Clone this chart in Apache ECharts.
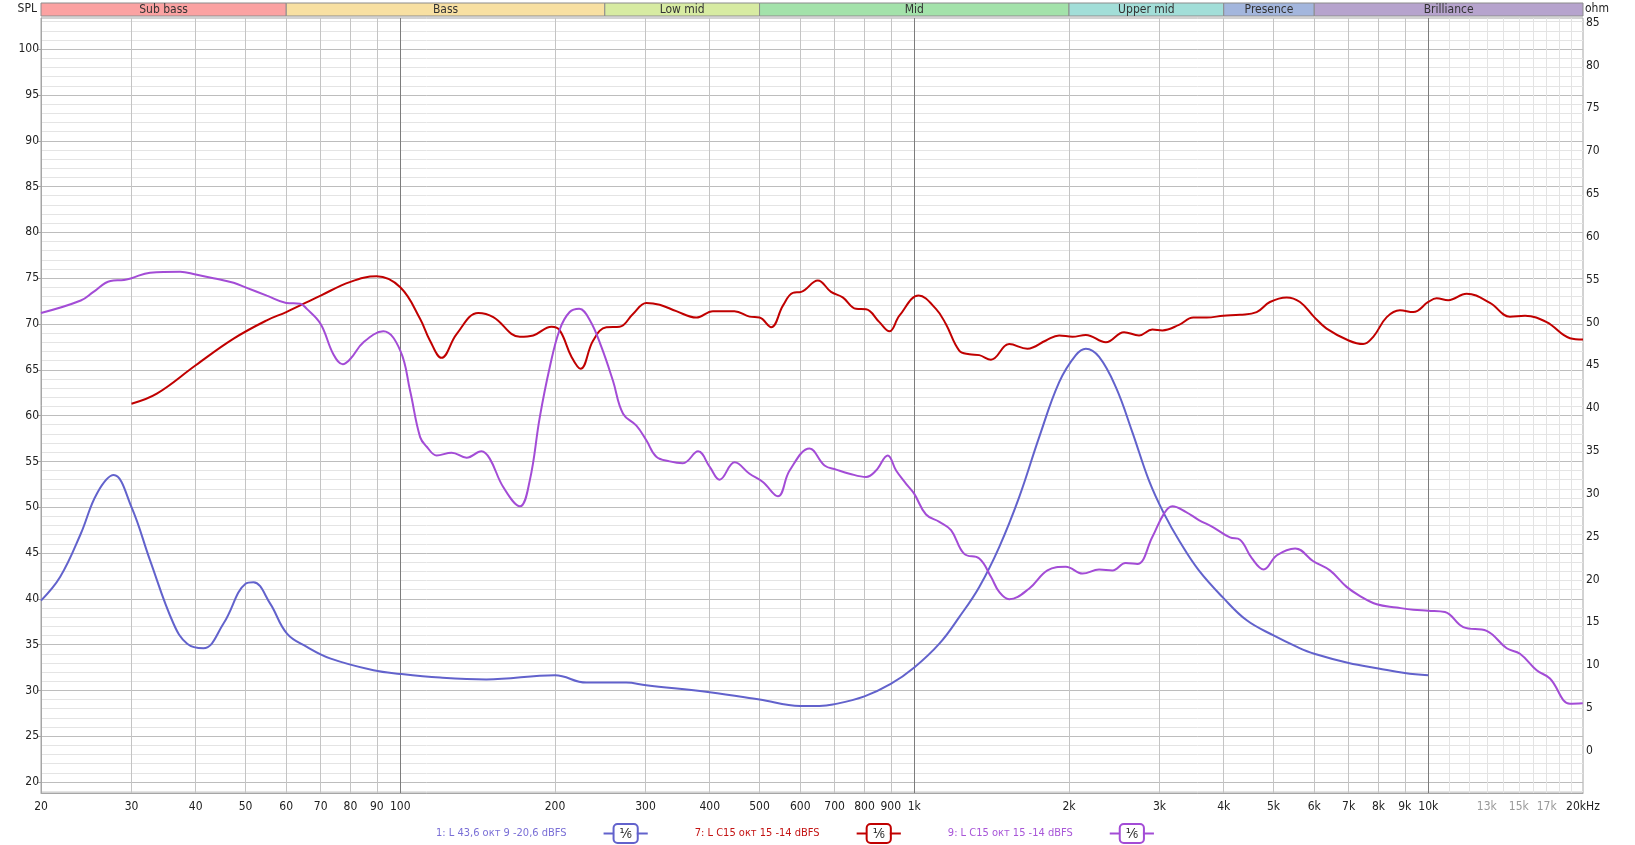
<!DOCTYPE html>
<html><head><meta charset="utf-8">
<script src="https://cdn.jsdelivr.net/npm/echarts@6/dist/echarts.min.js"></script>
<style>html,body{margin:0;padding:0;background:#fff}#c{width:1635px;height:845px}</style>
</head><body><div id="c"></div>
<script>
// ---------- DATA ----------
const bandEdges = [20, 60, 250, 500, 2000, 4000, 6000, 20000];
const bandNames = ['Sub bass', 'Bass', 'Low mid', 'Mid', 'Upper mid', 'Presence', 'Brilliance'];
const bandColors = ['#fba2a2', '#f8e0a2', '#d7eba2', '#a3e2aa', '#a2ded8', '#a3b6dd', '#b6a3cd'];

const xLabelValues = [20,30,40,50,60,70,80,90,100,200,300,400,500,600,700,800,900,1000,2000,3000,4000,5000,6000,7000,8000,9000,10000,13000,15000,17000,20000];
const xMajorLines = [30,40,50,60,70,80,90,200,300,400,500,600,700,800,900,2000,3000,4000,5000,6000,7000,8000,9000];
const xDecadeLines = [100, 1000, 10000];
const xMinorLines = [11000,12000,13000,14000,15000,16000,17000,18000,19000];
const splTicks = [20,25,30,35,40,45,50,55,60,65,70,75,80,85,90,95,100];
const ohmTicks = [0,5,10,15,20,25,30,35,40,45,50,55,60,65,70,75,80,85];

const seriesNames = ['1: L 43,6 окт 9 -20,6 dBFS', '7: L C15 окт 15 -14 dBFS', '9: L C15 окт 15 -14 dBFS'];

const s1Freq = [20,21.8,23.9,25.7,27.7,30,32.6,36.2,38.5,41.4,45.3,50,51.8,55.8,60.2,65.8,73,88.7,100,119.5,147,200,230,275,301,400,500,600,654,694,800,900,1000,1119,1223,1338,1463,1600,1750,1914,2062,2157,2289,2467,2656,2862,3061,3288,3578,3992,4434,5000,5553,6000,7000,8000,9000,10000];
const s1Val  = [39.8,42.4,47.1,51.5,53.5,50.0,44.2,37.3,35.1,34.6,37.3,41.65,41.8,39.5,36.2,34.75,33.5,32.2,31.8,31.4,31.2,31.65,30.85,30.85,30.55,29.8,29.0,28.3,28.3,28.45,29.35,30.7,32.5,35.1,38.0,41.3,45.65,51.1,57.65,63.65,66.6,67.3,66.4,63.1,58.2,52.9,49.3,46.2,43.1,40.1,37.65,36.0,34.75,34.0,33.0,32.4,31.9,31.65];

const s7Freq = [30,33.6,40,47.4,55,60,70,80,90,100,109.2,114.2,120.3,128.7,141.8,151.7,170.9,181.4,196.9,204.3,215.4,224.3,237.3,251.8,267.2,283.6,301.1,319.6,344.4,376.7,405.9,446.8,478.1,500,526.8,555.2,580.5,602.7,649.2,688.7,725.8,770.4,805.8,855.4,894.6,935.5,1020,1102,1152,1223,1280,1338,1410,1530,1660,1804,1914,2031,2157,2359,2559,2737,2905,3038,3273,3490,3706,3992,4302,4636,4920,5302,5629,6000,6342,7000,7470,7816,8302,8808,9350,10000,10380,10936,11875,13183,14420,15425,16995,18865,20000];
const s7Val  = [61.3,62.4,65.5,68.4,70.4,71.3,73.1,74.6,75.2,74.0,70.6,68.2,66.3,68.9,71.2,70.75,68.6,68.75,69.7,69.3,66.4,65.1,68.2,69.65,69.7,71.1,72.3,72.1,71.4,70.7,71.4,71.4,70.8,70.7,69.65,72.0,73.4,73.5,74.75,73.5,72.9,71.65,71.6,70.2,69.2,70.9,73.1,71.65,70.0,67.1,66.7,66.6,66.1,67.8,67.3,68.2,68.75,68.6,68.8,68.0,69.1,68.75,69.4,69.3,69.9,70.7,70.7,70.9,71.0,71.3,72.4,72.9,72.4,70.75,69.5,68.2,67.8,68.6,70.75,71.5,71.3,72.4,72.8,72.6,73.3,72.3,70.8,70.9,70.2,68.45,68.3];

const s9Freq = [20,23.9,25.3,27.3,29,30,32.6,37.3,40,43.3,47.4,50,55,60,63.9,65.8,70,74.1,77.3,80,84.8,92.7,100,104.5,109.3,112.6,117.7,125.9,134.6,143.9,149.3,158.6,170.9,178.6,186.8,195.4,204.3,213.6,222.9,233.8,246.2,259.3,271.3,288,301.1,314.9,334.3,354.8,379.7,400,418.1,447.2,478.1,507.5,542.9,572.1,625.6,668.9,704.8,748,806,842.6,888,921.9,964.1,1000,1054,1119,1179,1251,1338,1410,1463,1530,1672,1816,1971,2125,2289,2429,2578,2716,2905,3061,3177,3373,3578,3817,4113,4302,4539,4782,5076,5510,5975,6437,6937,7366,7938,8680,9350,10000,10777,11698,12991,14210,15082,16250,17248,18865,19980];
const s9Val  = [71.2,72.56,73.5,74.7,74.8,75.0,75.6,75.7,75.4,75.0,74.5,74.0,73.1,72.3,72.2,71.65,70.0,66.7,65.6,66.2,68.0,69.2,67.1,62.7,57.65,56.6,55.65,55.95,55.4,56.1,55.3,52.2,50.1,52.9,59.8,65.3,69.4,71.3,71.65,70.4,67.5,63.8,60.2,58.9,57.3,55.5,55.0,54.8,56.1,54.4,53.0,54.9,53.65,52.75,51.2,54.0,56.4,54.55,54.1,53.65,53.3,54.0,55.65,54.0,52.55,51.45,49.2,48.4,47.5,44.9,44.4,42.4,40.75,39.95,41.1,43.1,43.5,42.75,43.2,43.1,43.9,43.8,46.75,49.3,50.1,49.5,48.6,47.8,46.7,46.45,44.4,43.2,44.75,45.5,44.1,43.1,41.3,40.3,39.4,39.05,38.8,38.7,38.55,36.9,36.5,34.6,34.0,32.2,31.3,28.55,28.6];

// ---------- STYLE ----------
const FONT = "'Liberation Sans Narrow','DejaVu Sans Condensed','Liberation Sans',sans-serif";
const lineColors = ['#6262cc', '#c00000', '#a34cd6'];
const textColors = ['#7a6fd6', '#c41414', '#a856d8'];
const SPL_MIN = 18.8, SPL_MAX = 103.4, OHM_MIN = -4.94, OHM_MAX = 85.54;
const G = {left: 41, right: 52, top: 18, bottom: 52};

const pair = (fs, vs) => fs.map((f, i) => [f, vs[i]]);
const splMinor = [];
for (let v = 19; v <= 103; v++) splMinor.push(v);

const rich = {};
['a','b','c'].forEach((k, i) => {
  rich['t' + k] = {color: textColors[i], fontSize: 11, fontFamily: FONT, padding: [0, 37, 0, 0], verticalAlign: 'middle'};
  rich['l' + k] = {width: 11, height: 2, backgroundColor: lineColors[i], verticalAlign: 'middle'};
  rich['b' + k] = {borderColor: lineColors[i], borderWidth: 2, borderRadius: 3, padding: [2, 5, 1, 5], color: '#222', fontSize: 14, fontFamily: 'DejaVu Sans Condensed', backgroundColor: '#fff', verticalAlign: 'middle'};
});

const chart = echarts.init(document.getElementById('c'), null, {renderer: 'canvas'});
const logAxisBase = {type: 'log', logBase: 10, min: 20, max: 20000};

chart.setOption({
  animation: false,
  backgroundColor: '#fff',
  textStyle: {fontFamily: FONT},
  grid: [
    Object.assign({show: true, borderColor: '#a6a6a6', borderWidth: 1, backgroundColor: '#fff'}, G),
    {left: G.left, right: G.right, top: 3, height: 13}
  ],
  xAxis: [
    Object.assign({}, logAxisBase, {gridIndex: 0, position: 'top', axisLine: {show: false}, axisLabel: {show: false},
      axisTick: {show: false, customValues: xMinorLines}, splitLine: {show: true, lineStyle: {color: '#e3e3e3', width: 1}}}),
    Object.assign({}, logAxisBase, {gridIndex: 0, position: 'bottom',
      axisLine: {show: true, lineStyle: {color: '#a6a6a6'}},
      axisTick: {show: false, customValues: xMajorLines},
      axisLabel: {customValues: xLabelValues, margin: 8, fontSize: 12, fontFamily: FONT,
        formatter: v => v === 20000 ? '20kHz' : (v >= 1000 ? (v / 1000) + 'k' : String(v)),
        color: v => (v === 13000 || v === 15000 || v === 17000) ? '#9a9a9a' : '#222'},
      splitLine: {show: true, lineStyle: {color: '#c4c4c4', width: 1}}}),
    Object.assign({}, logAxisBase, {gridIndex: 0, position: 'top', offset: 0, axisLine: {show: false}, axisLabel: {show: false},
      axisTick: {show: false, customValues: xDecadeLines}, splitLine: {show: true, lineStyle: {color: '#7c7c7c', width: 1}}}),
    Object.assign({}, logAxisBase, {gridIndex: 1, show: false})
  ],
  yAxis: [
    {type: 'value', gridIndex: 0, min: SPL_MIN, max: SPL_MAX, position: 'left', axisLine: {show: false}, axisLabel: {show: false},
      axisTick: {show: false, customValues: splMinor}, splitLine: {show: true, lineStyle: {color: '#e4e4e4', width: 1}}},
    {type: 'value', gridIndex: 0, min: SPL_MIN, max: SPL_MAX, position: 'left',
      name: 'SPL', nameLocation: 'end', nameGap: 9,
      nameTextStyle: {align: 'right', verticalAlign: 'middle', color: '#222', fontSize: 12, fontFamily: FONT, padding: [0, 4, 0, 0]},
      axisLine: {show: true, lineStyle: {color: '#a6a6a6'}},
      axisTick: {show: true, length: 4, customValues: splTicks, lineStyle: {color: '#a6a6a6'}},
      axisLabel: {customValues: splTicks, margin: 2, fontSize: 12, color: '#222', fontFamily: FONT},
      splitLine: {show: true, lineStyle: {color: '#bdbdbd', width: 1}}},
    {type: 'value', gridIndex: 0, min: OHM_MIN, max: OHM_MAX, position: 'right',
      name: 'ohm', nameLocation: 'end', nameGap: 9,
      nameTextStyle: {align: 'left', verticalAlign: 'middle', color: '#222', fontSize: 12, fontFamily: FONT, padding: [0, 0, 0, 2]},
      axisLine: {show: false}, axisTick: {show: false, customValues: ohmTicks},
      axisLabel: {customValues: ohmTicks, margin: 3, fontSize: 12, color: '#222', fontFamily: FONT},
      splitLine: {show: false}},
    {type: 'value', gridIndex: 1, min: 0, max: 1, show: false}
  ],
  legend: {
    top: 818, left: 426, itemGap: 42, itemWidth: 0, itemHeight: 0, icon: 'rect',
    selectedMode: false,
    data: seriesNames,
    formatter: name => {
      const k = ['a','b','c'][seriesNames.indexOf(name)];
      return `{t${k}|${name}}{l${k}|}{b${k}|¹⁄₆}{l${k}|}`;
    },
    textStyle: {rich: rich}
  },
  series: [
    {type: 'custom', xAxisIndex: 3, yAxisIndex: 3, silent: true,
      data: bandNames.map((n, i) => [bandEdges[i], bandEdges[i + 1], i]),
      renderItem: (params, api) => {
        const i = api.value(2);
        const p0 = api.coord([api.value(0), 1]);
        const p1 = api.coord([api.value(1), 0]);
        return {
          type: 'rect',
          shape: {x: p0[0], y: p0[1], width: p1[0] - p0[0], height: p1[1] - p0[1]},
          style: {fill: bandColors[i], stroke: '#8c8c8c', lineWidth: 1},
          textContent: {style: {text: bandNames[i], fill: '#333', font: '12px ' + FONT}},
          textConfig: {position: 'inside'}
        };
      }},
    {name: seriesNames[0], type: 'line', xAxisIndex: 1, yAxisIndex: 1, data: pair(s1Freq, s1Val),
      showSymbol: false, symbol: 'none', smooth: 0.4, lineStyle: {color: lineColors[0], width: 2}, itemStyle: {color: lineColors[0]}},
    {name: seriesNames[1], type: 'line', xAxisIndex: 1, yAxisIndex: 1, data: pair(s7Freq, s7Val),
      showSymbol: false, symbol: 'none', smooth: 0.4, lineStyle: {color: lineColors[1], width: 2}, itemStyle: {color: lineColors[1]}},
    {name: seriesNames[2], type: 'line', xAxisIndex: 1, yAxisIndex: 1, data: pair(s9Freq, s9Val),
      showSymbol: false, symbol: 'none', smooth: 0.4, lineStyle: {color: lineColors[2], width: 2}, itemStyle: {color: lineColors[2]}}
  ]
});
</script></body></html>
